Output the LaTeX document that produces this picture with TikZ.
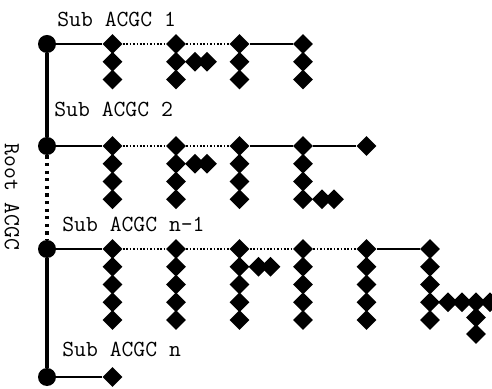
\documentclass[tikz,border=0pt]{standalone}
\usepackage{tikz}
\usetikzlibrary{shapes.geometric}

\tikzset{
  hub/.style={shape=circle,fill=black,inner sep=0pt,minimum size=9pt},
  leaf/.style={shape=diamond,fill=black,inner sep=0pt,minimum size=10pt},
  lbl/.style={anchor=base west,inner sep=0pt,font=\ttfamily\fontsize{11.5pt}{13pt}\selectfont},
  trunk/.style={line width=1.6pt},
  solidlink/.style={line width=0.9pt},
  dotlink/.style={line width=0.8pt,dash pattern=on 0.8pt off 0.9pt},
  stem/.style={line width=0.6pt}
}

\begin{document}
\begin{tikzpicture}[x=0.5pt,y=-0.5pt]
\useasboundingbox (0,0) rectangle (492,389);

% roots of the sub graphs
\node[hub] (ra) at (47,44) {};
\node[hub] (rb) at (47,146) {};
\node[hub] (rc) at (47,249) {};
\node[hub] (rd) at (47,377) {};
\path[trunk] (ra) edge (rb);
\path[trunk,dash pattern=on 1.6pt off 2.2pt] (rb) edge (rc);
\path[trunk] (rc) edge (rd);
\node[lbl,rotate=-90,anchor=center] (root) at (12,197) {Root ACGC};

% Sub ACGC 1
\node[lbl] (sa) at (57,27) {Sub ACGC 1};
\foreach \c/\x in {1/112.5,2/176,3/239.5,4/303}{
  \node[leaf] (a\c) at (\x,44) {};
  \foreach \k in {1,2}
    \node[leaf] (a\c-\k) at (\x,{44+17.75*\k}) {};
  \path[stem] (a\c) edge (a\c-2);
}
\node[leaf] (a2-s1) at (195,61.75) {};
\node[leaf] (a2-s2) at (207,61.75) {};
\path[stem] (a2-1) edge (a2-s2);
\path[solidlink] (ra) edge (a1);
\path[dotlink] (a1) edge (a2);
\path[dotlink] (a2) edge (a3);
\path[solidlink] (a3) edge (a4);

% Sub ACGC 2
\node[lbl] (sb) at (54,117) {Sub ACGC 2};
\foreach \c/\x in {1/112.5,2/176,3/239.5,4/303}{
  \node[leaf] (b\c) at (\x,146) {};
  \foreach \k in {1,2,3}
    \node[leaf] (b\c-\k) at (\x,{146+17.75*\k}) {};
  \path[stem] (b\c) edge (b\c-3);
}
\node[leaf] (b5) at (366.5,146) {};
\node[leaf] (b2-s1) at (195,163.75) {};
\node[leaf] (b2-s2) at (207,163.75) {};
\path[stem] (b2-1) edge (b2-s2);
\node[leaf] (b4-s1) at (322,199.25) {};
\node[leaf] (b4-s2) at (334,199.25) {};
\path[stem] (b4-3) edge (b4-s2);
\path[solidlink] (rb) edge (b1);
\path[dotlink] (b1) edge (b2);
\path[dotlink] (b2) edge (b3);
\path[solidlink] (b3) edge (b4);
\path[solidlink] (b4) edge (b5);

% Sub ACGC n-1
\node[lbl] (sc) at (62,232) {Sub ACGC n-1};
\foreach \c/\x in {1/112.5,2/176,3/239.5,4/303,5/366.5,6/430}{
  \node[leaf] (c\c) at (\x,249) {};
  \foreach \k in {1,2,3,4}
    \node[leaf] (c\c-\k) at (\x,{249+17.75*\k}) {};
  \path[stem] (c\c) edge (c\c-4);
}
\node[leaf] (c3-s1) at (258.5,266.75) {};
\node[leaf] (c3-s2) at (270.5,266.75) {};
\path[stem] (c3-1) edge (c3-s2);
\node[leaf] (c6-s1) at (448,302.25) {};
\node[leaf] (c6-s2) at (462,302.25) {};
\node[leaf] (c6-s3) at (476,302.25) {};
\node[leaf] (c6-s4) at (490,302.25) {};
\node[leaf] (c6-t1) at (476,317.5) {};
\node[leaf] (c6-t2) at (476,334) {};
\path[stem] (c6-3) edge (c6-s4);
\path[stem] (c6-s3) edge (c6-t2);
\path[solidlink] (rc) edge (c1);
\path[dotlink] (c1) edge (c2);
\path[dotlink] (c2) edge (c3);
\path[dotlink] (c3) edge (c4);
\path[dotlink] (c4) edge (c5);
\path[solidlink] (c5) edge (c6);

% Sub ACGC n
\node[lbl] (sd) at (62,357) {Sub ACGC n};
\node[leaf] (d1) at (112.5,377) {};
\path[solidlink] (rd) edge (d1);
\end{tikzpicture}
\end{document}
